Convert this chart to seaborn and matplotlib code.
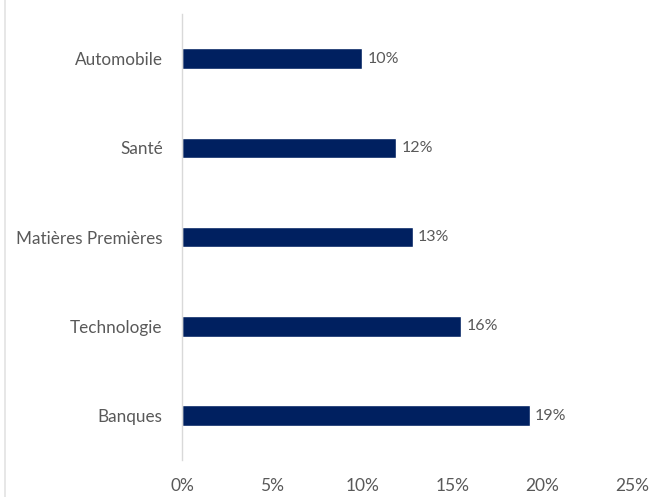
import pandas as pd
import matplotlib
matplotlib.use("Agg")
import matplotlib.pyplot as plt
import seaborn as sns
from matplotlib.lines import Line2D
from matplotlib.ticker import FuncFormatter

# données
secteurs = ["Automobile", "Santé", "Matières Premières", "Technologie", "Banques"]
poids = [10.0, 11.9, 12.8, 15.5, 19.3]
etiquettes = ["10%", "12%", "13%", "16%", "19%"]
ticks_x = [0, 5, 10, 15, 20, 25]

df = pd.DataFrame({"secteur": secteurs, "poids": poids})

sns.set_theme(style="white")
plt.rcParams["font.family"] = ["Lato", "DejaVu Sans"]

fig = plt.figure(figsize=(6.53, 4.97), dpi=100)
ax = fig.add_axes([0.279, 0.074, 0.689, 0.898])

sns.barplot(data=df, x="poids", y="secteur", orient="h", color="#002060",
            saturation=1, width=0.23, ax=ax)

for i, (v, lab) in enumerate(zip(poids, etiquettes)):
    ax.text(v + 0.3, i, lab, va="center", ha="left", fontsize=11.5, color="#595959")

ax.set_xlim(0, 25)
ax.set_ylim(4.5, -0.5)
ax.set_xticks(ticks_x)
ax.xaxis.set_major_formatter(FuncFormatter(lambda x, p: f"{x:.0f}%"))
ax.set_xlabel("")
ax.set_ylabel("")
ax.tick_params(axis="x", length=0, pad=13, labelsize=12.5, colors="#595959")
ax.tick_params(axis="y", length=0, pad=14, labelsize=12.3, colors="#595959")

for s in ["top", "right", "bottom"]:
    ax.spines[s].set_visible(False)
ax.spines["left"].set_color("#d9d9d9")
ax.spines["left"].set_linewidth(1)

# bord gauche du cadre du graphique (coupé dans l'original)
fig.add_artist(Line2D([0.008, 0.008], [0, 1], transform=fig.transFigure,
                      color="#e3e3e3", linewidth=1.2))

fig.savefig("out.png", dpi=100)
